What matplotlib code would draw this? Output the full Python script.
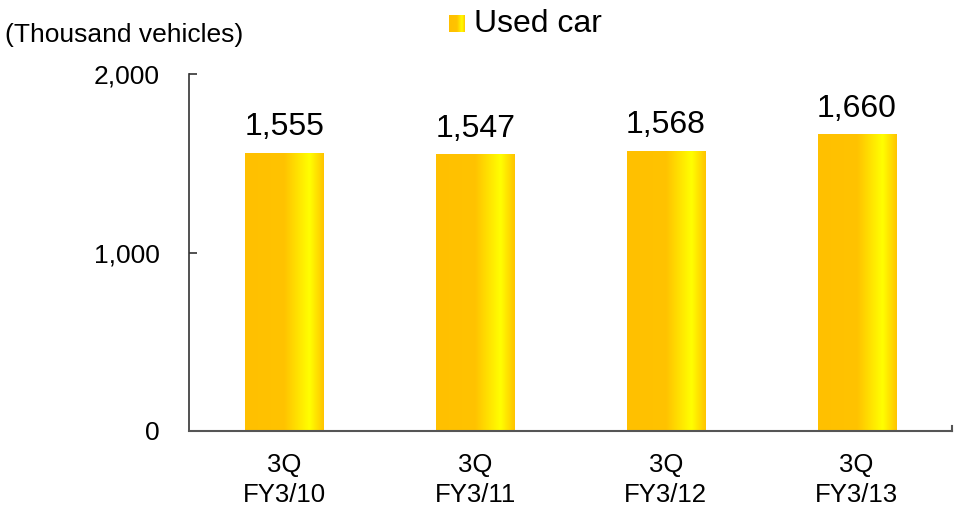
import numpy as np
import matplotlib
matplotlib.use("Agg")
import matplotlib.pyplot as plt
from matplotlib.colors import LinearSegmentedColormap

categories = ["3Q\nFY3/10", "3Q\nFY3/11", "3Q\nFY3/12", "3Q\nFY3/13"]
values = [1555, 1547, 1568, 1660]
value_labels = ["1,555", "1,547", "1,568", "1,660"]
yticks = [0, 1000, 2000]
ytick_labels = ["0", "1,000", "2,000"]
legend_label = "Used car"
unit_label = "(Thousand vehicles)"

plt.rcParams['font.family'] = ['Liberation Sans', 'DejaVu Sans']

cmap = LinearSegmentedColormap.from_list(
    "bar", [(0.0, "#FFC000"), (0.5, "#FFC300"), (0.82, "#FFFF00"), (1.0, "#FFC400")])
grad = np.linspace(0, 1, 256).reshape(1, -1)

fig = plt.figure(figsize=(9.61, 5.12), dpi=100)
ax = fig.add_axes([189/961, 1-431/512, (952-189)/961, (431-74)/512])

x = np.arange(len(categories))
width = 0.41
bars = ax.bar(x, values, width=width, color="none", edgecolor="none")
for b in bars:
    x0, y0 = b.get_x(), b.get_y()
    w, h = b.get_width(), b.get_height()
    ax.imshow(grad, extent=[x0, x0 + w, y0, y0 + h], aspect="auto", cmap=cmap,
              interpolation="bicubic", zorder=2)
for xi, v, lab in zip(x, values, value_labels):
    ax.annotate(lab, (xi, v), xytext=(0, 8), textcoords="offset points",
                ha="center", va="bottom", fontsize=23)

ax.set_xlim(-0.5, len(categories) - 0.5)
ax.set_ylim(0, 2000)
ax.set_yticks(yticks)
ax.set_yticklabels(ytick_labels, fontsize=19)
ax.set_xticks(x)
ax.set_xticklabels(categories, fontsize=18.5, linespacing=1.3)
ax.tick_params(axis="x", length=0, pad=16)
ax.tick_params(axis="y", length=5.5, width=1.2, pad=21, direction="in", color="#333333")
for s in ["top", "right"]:
    ax.spines[s].set_visible(False)
ax.spines["left"].set_color("#333333")
ax.spines["left"].set_linewidth(1.2)
ax.spines["bottom"].set_color("#555555")
ax.spines["bottom"].set_linewidth(1.5)
# end tick at right of category axis
ax.plot([len(categories) - 0.5, len(categories) - 0.5], [0, 30], color="#555555",
        lw=1.5, clip_on=False, zorder=3)

fig.text(5/961, 1-42/512, unit_label, fontsize=19, ha="left", va="baseline")

# legend
lax = fig.add_axes([449/961, 1-32/512, 16/961, 17/512])
lax.imshow(grad, extent=[0, 1, 0, 1], aspect="auto", cmap=cmap, interpolation="bicubic")
lax.set_axis_off()
fig.text(474/961, 1-32/512, legend_label, fontsize=23, ha="left", va="baseline")

fig.savefig("out.png", dpi=100)
